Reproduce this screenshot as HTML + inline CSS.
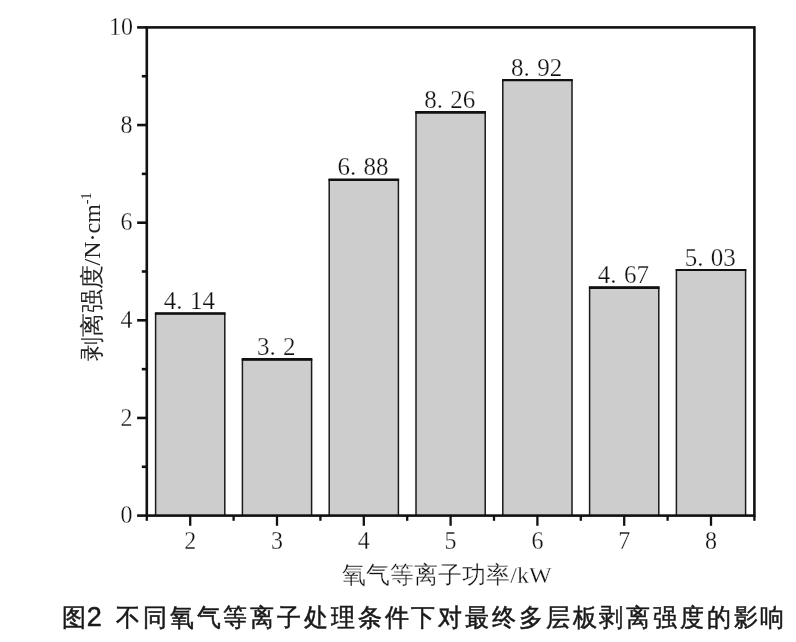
<!DOCTYPE html>
<html><head><meta charset="utf-8"><style>
html,body{margin:0;padding:0;background:#fff;width:796px;height:642px;overflow:hidden}
svg{position:absolute;left:0;top:0;will-change:transform}
.lab{font-family:"Liberation Serif",serif;font-size:25px;fill:#111;stroke:#fff;stroke-width:0.25px;text-anchor:middle}
.tk{font-family:"Liberation Serif",serif;font-size:24px;fill:#111;stroke:#fff;stroke-width:0.25px}
.ttl{font-family:"Liberation Serif",serif;font-size:24px;fill:#111;stroke:#fff;stroke-width:0.3px}
.cap{will-change:transform;position:absolute;left:62px;top:604px;font-family:"Liberation Sans",sans-serif;font-size:24px;font-weight:400;letter-spacing:2.85px;-webkit-text-stroke:0.5px #1a1a1a;transform:scaleY(1.04);transform-origin:0 100%;color:#1a1a1a;white-space:nowrap;line-height:1}
.cap span{font-size:27px;font-weight:400;-webkit-text-stroke:0.5px #1a1a1a;margin-left:-2.2px;margin-right:2px}
</style></head><body>
<svg width="796" height="642" viewBox="0 0 796 642">
<rect x="155.60" y="313.49" width="69.20" height="202.11" fill="#cdcdcd"/>
<path d="M155.60 515.60V313.49H224.80V515.60" fill="none" stroke="#1a1a1a" stroke-width="1.5"/>
<line x1="154.90" y1="313.49" x2="225.50" y2="313.49" stroke="#111" stroke-width="2.7"/>
<text x="189.40" y="309.19" class="lab">4.<tspan dx="1.1"> 14</tspan></text>
<rect x="242.40" y="359.38" width="69.20" height="156.22" fill="#cdcdcd"/>
<path d="M242.40 515.60V359.38H311.60V515.60" fill="none" stroke="#1a1a1a" stroke-width="1.5"/>
<line x1="241.70" y1="359.38" x2="312.30" y2="359.38" stroke="#111" stroke-width="2.6"/>
<text x="276.20" y="355.08" class="lab">3.<tspan dx="1.1"> 2</tspan></text>
<rect x="329.20" y="179.72" width="69.20" height="335.88" fill="#cdcdcd"/>
<path d="M329.20 515.60V179.72H398.40V515.60" fill="none" stroke="#1a1a1a" stroke-width="1.5"/>
<line x1="328.50" y1="179.72" x2="399.10" y2="179.72" stroke="#111" stroke-width="2.6"/>
<text x="363.00" y="175.42" class="lab">6.<tspan dx="1.1"> 88</tspan></text>
<rect x="416.00" y="112.35" width="69.20" height="403.25" fill="#cdcdcd"/>
<path d="M416.00 515.60V112.35H485.20V515.60" fill="none" stroke="#1a1a1a" stroke-width="1.5"/>
<line x1="415.30" y1="112.35" x2="485.90" y2="112.35" stroke="#111" stroke-width="2.6"/>
<text x="449.80" y="108.05" class="lab">8.<tspan dx="1.1"> 26</tspan></text>
<rect x="502.80" y="80.13" width="69.20" height="435.47" fill="#cdcdcd"/>
<path d="M502.80 515.60V80.13H572.00V515.60" fill="none" stroke="#1a1a1a" stroke-width="1.5"/>
<line x1="502.10" y1="80.13" x2="572.70" y2="80.13" stroke="#111" stroke-width="2.2"/>
<text x="536.60" y="75.83" class="lab">8.<tspan dx="1.1"> 92</tspan></text>
<rect x="589.60" y="287.61" width="69.20" height="227.99" fill="#cdcdcd"/>
<path d="M589.60 515.60V287.61H658.80V515.60" fill="none" stroke="#1a1a1a" stroke-width="1.5"/>
<line x1="588.90" y1="287.61" x2="659.50" y2="287.61" stroke="#111" stroke-width="2.6"/>
<text x="623.40" y="283.31" class="lab">4.<tspan dx="1.1"> 67</tspan></text>
<rect x="676.40" y="270.04" width="69.20" height="245.56" fill="#cdcdcd"/>
<path d="M676.40 515.60V270.04H745.60V515.60" fill="none" stroke="#1a1a1a" stroke-width="1.5"/>
<line x1="675.70" y1="270.04" x2="746.30" y2="270.04" stroke="#111" stroke-width="2.0"/>
<text x="710.20" y="265.74" class="lab">5.<tspan dx="1.1"> 03</tspan></text>
<rect x="146.8" y="27.4" width="607.60" height="488.20" fill="none" stroke="#111" stroke-width="2.6"/>
<line x1="137.10" y1="515.60" x2="146.80" y2="515.60" stroke="#111" stroke-width="2.6"/>
<text transform="translate(132.40 523.20) scale(1 1.08)" class="tk" text-anchor="end">0</text>
<line x1="141.80" y1="466.78" x2="146.80" y2="466.78" stroke="#111" stroke-width="2.6"/>
<line x1="137.10" y1="417.96" x2="146.80" y2="417.96" stroke="#111" stroke-width="2.6"/>
<text transform="translate(132.40 425.56) scale(1 1.08)" class="tk" text-anchor="end">2</text>
<line x1="141.80" y1="369.14" x2="146.80" y2="369.14" stroke="#111" stroke-width="2.6"/>
<line x1="137.10" y1="320.32" x2="146.80" y2="320.32" stroke="#111" stroke-width="2.6"/>
<text transform="translate(132.40 327.92) scale(1 1.08)" class="tk" text-anchor="end">4</text>
<line x1="141.80" y1="271.50" x2="146.80" y2="271.50" stroke="#111" stroke-width="2.6"/>
<line x1="137.10" y1="222.68" x2="146.80" y2="222.68" stroke="#111" stroke-width="2.6"/>
<text transform="translate(132.40 230.28) scale(1 1.08)" class="tk" text-anchor="end">6</text>
<line x1="141.80" y1="173.86" x2="146.80" y2="173.86" stroke="#111" stroke-width="2.6"/>
<line x1="137.10" y1="125.04" x2="146.80" y2="125.04" stroke="#111" stroke-width="2.6"/>
<text transform="translate(132.40 132.64) scale(1 1.08)" class="tk" text-anchor="end">8</text>
<line x1="141.80" y1="76.22" x2="146.80" y2="76.22" stroke="#111" stroke-width="2.6"/>
<line x1="137.10" y1="27.40" x2="146.80" y2="27.40" stroke="#111" stroke-width="2.6"/>
<text transform="translate(133.10 35.00) scale(1 1.08)" class="tk" text-anchor="end">10</text>
<line x1="146.80" y1="515.60" x2="146.80" y2="520.80" stroke="#111" stroke-width="2.3"/>
<line x1="233.60" y1="515.60" x2="233.60" y2="520.80" stroke="#111" stroke-width="2.3"/>
<line x1="320.40" y1="515.60" x2="320.40" y2="520.80" stroke="#111" stroke-width="2.3"/>
<line x1="407.20" y1="515.60" x2="407.20" y2="520.80" stroke="#111" stroke-width="2.3"/>
<line x1="494.00" y1="515.60" x2="494.00" y2="520.80" stroke="#111" stroke-width="2.3"/>
<line x1="580.80" y1="515.60" x2="580.80" y2="520.80" stroke="#111" stroke-width="2.3"/>
<line x1="667.60" y1="515.60" x2="667.60" y2="520.80" stroke="#111" stroke-width="2.3"/>
<line x1="754.40" y1="515.60" x2="754.40" y2="520.80" stroke="#111" stroke-width="2.3"/>
<line x1="190.20" y1="515.60" x2="190.20" y2="525.80" stroke="#111" stroke-width="2.3"/>
<text transform="translate(190.20 548.9) scale(1 1.08)" class="tk" text-anchor="middle">2</text>
<line x1="277.00" y1="515.60" x2="277.00" y2="525.80" stroke="#111" stroke-width="2.3"/>
<text transform="translate(277.00 548.9) scale(1 1.08)" class="tk" text-anchor="middle">3</text>
<line x1="363.80" y1="515.60" x2="363.80" y2="525.80" stroke="#111" stroke-width="2.3"/>
<text transform="translate(363.80 548.9) scale(1 1.08)" class="tk" text-anchor="middle">4</text>
<line x1="450.60" y1="515.60" x2="450.60" y2="525.80" stroke="#111" stroke-width="2.3"/>
<text transform="translate(450.60 548.9) scale(1 1.08)" class="tk" text-anchor="middle">5</text>
<line x1="537.40" y1="515.60" x2="537.40" y2="525.80" stroke="#111" stroke-width="2.3"/>
<text transform="translate(537.40 548.9) scale(1 1.08)" class="tk" text-anchor="middle">6</text>
<line x1="624.20" y1="515.60" x2="624.20" y2="525.80" stroke="#111" stroke-width="2.3"/>
<text transform="translate(624.20 548.9) scale(1 1.08)" class="tk" text-anchor="middle">7</text>
<line x1="711.00" y1="515.60" x2="711.00" y2="525.80" stroke="#111" stroke-width="2.3"/>
<text transform="translate(711.00 548.9) scale(1 1.08)" class="tk" text-anchor="middle">8</text>
<text x="447" y="583" class="ttl" text-anchor="middle">氧气等离子功率/kW</text>
<text transform="translate(99.5 277) rotate(-90)" class="ttl" style="stroke:none;fill:#222" text-anchor="middle">剥离强度/N·cm<tspan dy="-9" font-size="14">-1</tspan></text>
</svg>
<div class="cap">图<span>2</span> 不同氧气等离子处理条件下对最终多层板剥离强度的影响</div>
</body></html>
